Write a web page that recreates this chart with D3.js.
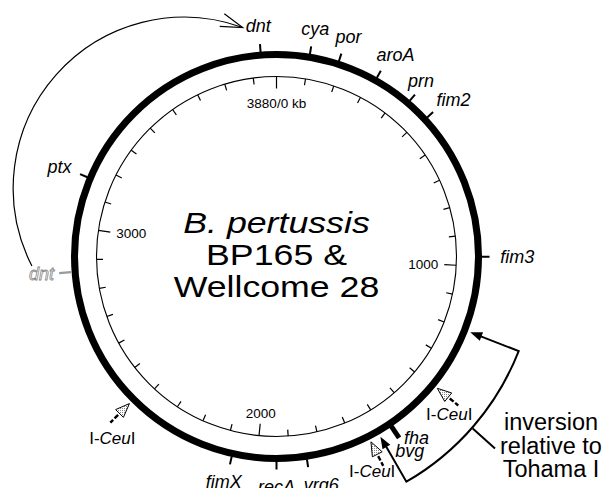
<!DOCTYPE html>
<html><head><meta charset="utf-8">
<script src="https://cdn.jsdelivr.net/npm/d3@7"></script>
<style>
body{margin:0;background:#fff}
svg{display:block}
text{font-family:"Liberation Sans",Arial,Helvetica,sans-serif}
</style>
</head><body>
<svg id="c" width="605" height="488"></svg>
<script>
// ---------------- data ----------------
const genomeKb = 3880;
const scaleTicksKb = d3.range(0, 3880, 100);
const majorTicksKb = [0, 1000, 2000, 3000];
const majorTickLabels = ["3880/0 kb", "1000", "2000", "3000"];
const geneNames = ["dnt","cya","por","aroA","prn","fim2","fim3","fha","bvg","vrg6","recA","fimX","ptx"];
const geneKb    = [3832, 101, 191, 316, 437, 510, 971, 1573, 1573, 1848, 1940, 2076, 3155];
const ceuSitesKb = [1394, 1649, 2425];
const ceuLabel = ["I-", "Ceu", "I"];
const tohamaDntKb = 2863;
const tohamaDntLabel = "dnt";
const inversionKb = [1200, 1617];
const titleLines = ["B. pertussis", "BP165 &", "Wellcome 28"];
const noteLines = ["inversion", "relative to", "Tohama I"];

// ---------------- layout ----------------
const svg = d3.select("#c");
const cx = 276.5, cy = 256.5;
const ringR = 202, innerR = 180;
const ang = d3.scaleLinear().domain([0, genomeKb]).range([0, 2 * Math.PI]);
const pol = (r, a) => [cx + r * Math.sin(a), cy - r * Math.cos(a)];
const labelNudge = {prn: [-9, 0], fha: [8, -10], bvg: [0, 3], vrg6: [9, 0]};
const ceuNudge = [[-9, 15], [-11, 11], [2, 21]];
const geneFont = 18;

const defs = svg.append("defs");
const pat = defs.append("pattern").attr("id", "dots").attr("width", 2).attr("height", 2)
  .attr("patternUnits", "userSpaceOnUse");
pat.append("rect").attr("width", 2).attr("height", 2).attr("fill", "#fff");
pat.append("rect").attr("width", 1).attr("height", 1).attr("fill", "#888");

// inner scale circle
svg.append("circle").attr("cx", cx).attr("cy", cy).attr("r", innerR)
  .attr("fill", "none").attr("stroke", "#000").attr("stroke-width", 1.1);

svg.append("g").selectAll("line").data(scaleTicksKb).join("line")
  .each(function(d) {
    const a = ang(d);
    const len = majorTicksKb.includes(d) ? 12 : 6.5;
    const [x1, y1] = pol(innerR, a), [x2, y2] = pol(innerR - len, a);
    d3.select(this).attr("x1", x1).attr("y1", y1).attr("x2", x2).attr("y2", y2);
  })
  .attr("stroke", "#000").attr("stroke-width", 1.2);

svg.append("g").selectAll("text").data(majorTicksKb).join("text")
  .each(function(d, i) {
    const a = ang(d);
    const s = Math.sin(a), c = Math.cos(a);
    const [x, y] = pol(162, a);
    const anchor = Math.abs(s) < 0.5 ? "middle" : (s > 0 ? "end" : "start");
    const dy = c > 0.5 ? "1em" : (c < -0.5 ? "0em" : "0.35em");
    d3.select(this).attr("x", x).attr("y", y).attr("dy", dy).attr("text-anchor", anchor)
      .text(majorTickLabels[i]);
  })
  .attr("font-size", 13.5);

// thick genome ring
svg.append("circle").attr("cx", cx).attr("cy", cy).attr("r", ringR)
  .attr("fill", "none").attr("stroke", "#000").attr("stroke-width", 7);

// gene ticks
geneNames.forEach((name, i) => {
  if (name === "bvg") return;
  const a = ang(geneKb[i]);
  const thick = name === "fha";
  const [x1, y1] = pol(thick ? 203 : 205, a), [x2, y2] = pol(thick ? 219 : 213, a);
  svg.append("line").attr("x1", x1).attr("y1", y1).attr("x2", x2).attr("y2", y2)
    .attr("stroke", "#000").attr("stroke-width", thick ? 5 : 2);
});

// gene labels
function placeLabel(t, a, nd) {
  const w = t.node().getComputedTextLength();
  const [px, py] = pol(222, a);
  t.attr("x", px + w / 2 * Math.sin(a) * 1.1 + nd[0])
   .attr("y", py + geneFont * 0.33 - geneFont * 0.48 * Math.cos(a) + nd[1]);
}
let topDnt = null;
geneNames.forEach((name, i) => {
  const t = svg.append("text").attr("font-size", geneFont).attr("font-style", "italic")
    .attr("text-anchor", "middle").text(name);
  placeLabel(t, ang(geneKb[i]), labelNudge[name] || [0, 0]);
  if (name === "dnt") topDnt = t;
});

// Tohama I dnt position (grey)
{
  const a = ang(tohamaDntKb);
  const [x1, y1] = pol(206, a), [x2, y2] = pol(218, a);
  svg.append("line").attr("x1", x1).attr("y1", y1).attr("x2", x2).attr("y2", y2)
    .attr("stroke", "#999").attr("stroke-width", 2.2);
  const t = svg.append("text").attr("font-size", geneFont).attr("font-style", "italic")
    .attr("text-anchor", "middle").attr("fill", "#fff").attr("stroke", "#888")
    .attr("stroke-width", 0.8).text(tohamaDntLabel);
  placeLabel(t, a, [0, 0]);
  // big curved arrow from Tohama dnt to dnt
  const bb = t.node().getBBox();
  const sx = bb.x + 3, sy = bb.y + 2;
  const tb = topDnt.node().getBBox();
  const ex = tb.x - 3, ey = tb.y + tb.height / 2 + 1;
  const R = 171;
  svg.append("path").attr("d", `M${sx},${sy} A${R},${R} 0 0 1 ${ex},${ey}`)
    .attr("fill", "none").attr("stroke", "#000").attr("stroke-width", 1.2);
  const mx = (sx + ex) / 2, my = (sy + ey) / 2;
  const dx = ex - sx, dy = ey - sy, ch = Math.hypot(dx, dy);
  const h = Math.sqrt(R * R - ch * ch / 4);
  const c1 = [mx + h * (-dy) / ch, my + h * dx / ch], c2 = [mx - h * (-dy) / ch, my - h * dx / ch];
  const cen = c1[1] > c2[1] ? c1 : c2;
  const rx = ex - cen[0], ry = ey - cen[1];
  let tx = -ry, ty = rx;
  const tl = Math.hypot(tx, ty); tx /= tl; ty /= tl;
  const back = Math.atan2(-ty, -tx), spread = 17 * Math.PI / 180, L = 23;
  const p1 = [ex + L * Math.cos(back + spread), ey + L * Math.sin(back + spread)];
  const p2 = [ex + L * Math.cos(back - spread), ey + L * Math.sin(back - spread)];
  svg.append("path").attr("d", `M${p1[0]},${p1[1]} L${ex},${ey} L${p2[0]},${p2[1]}`)
    .attr("fill", "none").attr("stroke", "#000").attr("stroke-width", 1.2);
}

// I-CeuI sites
ceuSitesKb.forEach((kb, i) => {
  const a = ang(kb);
  const tang = [Math.cos(a), Math.sin(a)];
  const tip = pol(208, a), base = pol(222, a);
  const hw = 5.5;
  const pts = [tip, [base[0] + tang[0] * hw, base[1] + tang[1] * hw], [base[0] - tang[0] * hw, base[1] - tang[1] * hw]];
  svg.append("path").attr("d", "M" + pts.map(p => p.join(",")).join("L") + "Z")
    .attr("fill", "url(#dots)").attr("stroke", "#000").attr("stroke-width", 1);
  const [l1x, l1y] = pol(224, a), [l2x, l2y] = pol(235, a);
  svg.append("line").attr("x1", l1x).attr("y1", l1y).attr("x2", l2x).attr("y2", l2y)
    .attr("stroke", "#000").attr("stroke-width", 2.4).attr("stroke-dasharray", "5,2");
  const nd = ceuNudge[i];
  const t = svg.append("text").attr("font-size", 17).attr("text-anchor", "middle")
    .attr("x", l2x + nd[0]).attr("y", l2y + nd[1]);
  t.append("tspan").text(ceuLabel[0]);
  t.append("tspan").attr("font-style", "italic").text(ceuLabel[1]);
  t.append("tspan").text(ceuLabel[2]);
});

// inversion bracket
{
  const a0 = ang(inversionKb[0]), a1 = ang(inversionKb[1]);
  const Rb = 260;
  const s0 = pol(Rb, a0), s1 = pol(Rb, a1);
  const t0 = pol(218, a0), t1 = pol(218, a1);
  svg.append("path")
    .attr("d", `M${t0[0]},${t0[1]} L${s0[0]},${s0[1]} A${Rb},${Rb} 0 0 1 ${s1[0]},${s1[1]} L${t1[0]},${t1[1]}`)
    .attr("fill", "none").attr("stroke", "#000").attr("stroke-width", 2);
  [a0, a1].forEach(a => {
    const tip = pol(208, a), base = pol(220, a);
    const tg = [Math.cos(a), Math.sin(a)], hw = 4.5;
    svg.append("path").attr("d",
      `M${tip[0]},${tip[1]} L${base[0] + tg[0] * hw},${base[1] + tg[1] * hw} L${base[0] - tg[0] * hw},${base[1] - tg[1] * hw}Z`)
      .attr("fill", "#000");
  });
  const nx = 551, ny0 = 430, lh = 23.5;
  svg.append("g").selectAll("text").data(noteLines).join("text")
    .attr("x", nx).attr("y", (d, i) => ny0 + i * lh).attr("text-anchor", "middle")
    .attr("font-size", 23.5).text(d => d);
  const am = (a0 + a1) / 2 + 0.01;
  const lp = pol(Rb + 1, am);
  svg.append("line").attr("x1", lp[0]).attr("y1", lp[1]).attr("x2", nx - 56).attr("y2", ny0 + lh - 5)
    .attr("stroke", "#000").attr("stroke-width", 2);
}

// centre title
{
  const g = svg.append("g").attr("transform", `translate(${cx},0) scale(1.19,1)`);
  g.selectAll("text").data(titleLines).join("text")
    .attr("x", 0).attr("y", (d, i) => 233 + i * 32).attr("text-anchor", "middle")
    .attr("font-size", 30).attr("font-style", (d, i) => i === 0 ? "italic" : "normal")
    .text(d => d);
}
</script>
</body></html>
